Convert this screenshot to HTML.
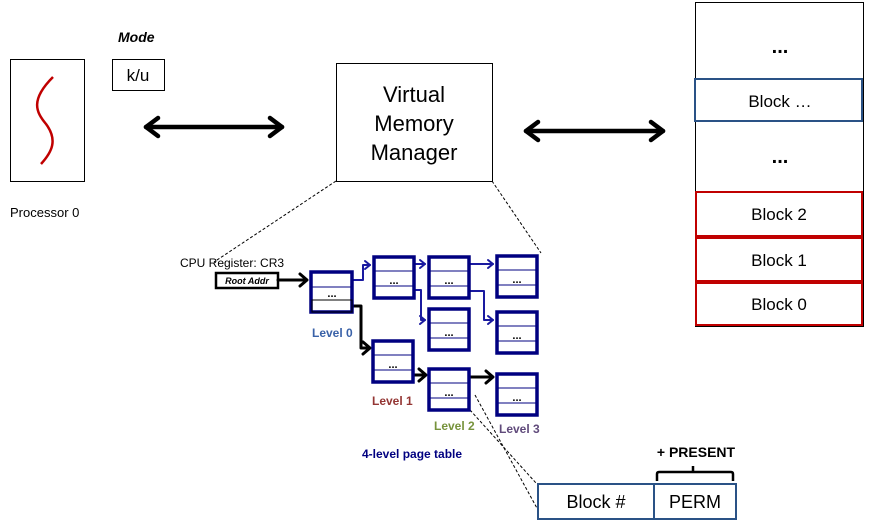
<!DOCTYPE html>
<html><head><meta charset="utf-8"><style>
html,body{margin:0;padding:0;background:#fff;}
svg{display:block;font-family:"Liberation Sans",sans-serif;}
</style></head><body>
<svg width="869" height="531" viewBox="0 0 869 531" xmlns="http://www.w3.org/2000/svg">
<defs>
<marker id="ab" markerWidth="6" markerHeight="6" refX="5" refY="3" orient="auto" markerUnits="userSpaceOnUse" viewBox="0 0 6 6"><path d="M0,0 L5,3 L0,6" fill="none" stroke="#000" stroke-width="1.6"/></marker>
</defs>
<!-- Processor -->
<rect x="10.5" y="59.5" width="74" height="122" fill="#fff" stroke="#000"/>
<path d="M53,77 C30,100 36,112 46,124 C58,140 52,152 41,164" fill="none" stroke="#c00000" stroke-width="2.5"/>
<text x="10" y="217" font-size="13">Processor 0</text>
<text x="118" y="42" font-size="14" font-weight="bold" font-style="italic">Mode</text>
<rect x="112.5" y="59.5" width="52" height="31" fill="#fff" stroke="#000"/>
<text x="138" y="81" font-size="17" text-anchor="middle">k/u</text>
<!-- arrows -->
<g stroke="#000" stroke-width="4.5" fill="none" stroke-linecap="round" stroke-linejoin="round">
<line x1="146" y1="127" x2="282" y2="127"/>
<polyline points="158,118 146,127 158,136"/>
<polyline points="270,118 282,127 270,136"/>
<line x1="526" y1="131" x2="663" y2="131"/>
<polyline points="538,122 526,131 538,140"/>
<polyline points="651,122 663,131 651,140"/>
</g>
<!-- VMM -->
<rect x="336.5" y="63.5" width="156" height="118" fill="#fff" stroke="#000"/>
<text x="414" y="102" font-size="22" text-anchor="middle">Virtual</text>
<text x="414" y="131" font-size="22" text-anchor="middle">Memory</text>
<text x="414" y="160" font-size="22" text-anchor="middle">Manager</text>
<g stroke="#000" stroke-width="1" stroke-dasharray="3,2" fill="none">
<line x1="336" y1="181" x2="214" y2="262"/>
<line x1="492" y1="181" x2="541" y2="253"/>
<line x1="470" y1="410" x2="536" y2="483"/>
<line x1="475" y1="395" x2="538" y2="510"/>
</g>
<!-- memory column -->
<rect x="695.5" y="2.5" width="168" height="324" fill="#fff" stroke="#000"/>
<text x="780" y="53" font-size="20" font-weight="bold" text-anchor="middle">...</text>
<rect x="695" y="79" width="167" height="42" fill="#fff" stroke="#2a5286" stroke-width="2"/>
<text x="780" y="107" font-size="17" text-anchor="middle">Block …</text>
<text x="780" y="163" font-size="20" font-weight="bold" text-anchor="middle">...</text>
<rect x="696" y="192" width="166" height="44" fill="#fff" stroke="#c00000" stroke-width="2"/>
<text x="779" y="220" font-size="17" text-anchor="middle">Block 2</text>
<rect x="696" y="238" width="166" height="43" fill="#fff" stroke="#c00000" stroke-width="2"/>
<text x="779" y="266" font-size="17" text-anchor="middle">Block 1</text>
<rect x="696" y="283" width="166" height="42" fill="#fff" stroke="#c00000" stroke-width="2"/>
<text x="779" y="310" font-size="17" text-anchor="middle">Block 0</text>
<!-- CR3 -->
<text x="180" y="267" font-size="12">CPU Register: CR3</text>
<rect x="216" y="273" width="62" height="15" fill="#fff" stroke="#000" stroke-width="2.5"/>
<text x="247" y="284" font-size="9" font-weight="bold" font-style="italic" text-anchor="middle">Root Addr</text>
<!-- connectors -->
<g fill="none" stroke-linejoin="round" stroke-linecap="round">
<g stroke="#000" stroke-width="3">
<polyline points="278,280 306,280"/><polyline points="300,274 307,280 300,286"/>
<polyline points="353,306 361,306 361,348 369,348"/><polyline points="363,342 370,348 363,354"/>
<polyline points="414,375 425,375"/><polyline points="419,369 426,375 419,381"/>
<polyline points="470,377 492,377"/><polyline points="486,371 493,377 486,383"/>
</g>
<g stroke="#1a1aa0" stroke-width="2">
<polyline points="353,280 363,280 363,265 370,265"/><polyline points="365,261 370,265 365,269"/>
<polyline points="415,264 425,264"/><polyline points="420,260 425,264 420,268"/>
<polyline points="415,290 421,290 421,320 425,320"/><polyline points="420,316 425,320 420,324"/>
<polyline points="470,264 493,264"/><polyline points="488,260 493,264 488,268"/>
<polyline points="470,291 484,291 484,320 493,320"/><polyline points="488,316 493,320 488,324"/>
</g>
</g>
<!-- page table boxes -->
<g fill="#fff" stroke="#000080" stroke-width="3.5">
<rect x="311" y="272" width="41" height="40"/>
<rect x="374" y="257" width="40" height="41"/>
<rect x="429" y="257" width="40" height="41"/>
<rect x="497" y="256" width="40" height="41"/>
<rect x="429" y="309" width="40" height="41"/>
<rect x="497" y="312" width="40" height="41"/>
<rect x="373" y="341" width="40" height="41"/>
<rect x="429" y="369" width="40" height="41"/>
<rect x="497" y="374" width="40" height="41"/>
</g>
<g stroke="#000080" stroke-width="1">
<line x1="311" y1="287" x2="352" y2="287"/>
<rect x="312" y="300" width="40" height="12" fill="none" stroke="#000"/>
<line x1="374" y1="271" x2="414" y2="271"/><line x1="374" y1="286" x2="414" y2="286"/>
<line x1="429" y1="271" x2="469" y2="271"/><line x1="429" y1="286" x2="469" y2="286"/>
<line x1="497" y1="270" x2="537" y2="270"/><line x1="497" y1="285" x2="537" y2="285"/>
<line x1="429" y1="323" x2="469" y2="323"/><line x1="429" y1="338" x2="469" y2="338"/>
<line x1="497" y1="326" x2="537" y2="326"/><line x1="497" y1="341" x2="537" y2="341"/>
<line x1="373" y1="355" x2="413" y2="355"/><line x1="373" y1="370" x2="413" y2="370"/>
<line x1="429" y1="383" x2="469" y2="383"/><line x1="429" y1="398" x2="469" y2="398"/>
<line x1="497" y1="388" x2="537" y2="388"/><line x1="497" y1="403" x2="537" y2="403"/>
</g>
<g font-size="11" font-weight="bold" text-anchor="middle">
<text x="332" y="297">...</text><text x="394" y="284">...</text><text x="449" y="284">...</text><text x="517" y="283">...</text>
<text x="449" y="336">...</text><text x="517" y="339">...</text><text x="393" y="368">...</text><text x="449" y="396">...</text><text x="517" y="401">...</text>
</g>
<g font-size="12" font-weight="bold">
<text x="312" y="337" fill="#3a62a8">Level 0</text>
<text x="372" y="405" fill="#943634">Level 1</text>
<text x="434" y="430" fill="#77933c">Level 2</text>
<text x="499" y="433" fill="#604a7b">Level 3</text>
<text x="362" y="458" fill="#000080">4-level page table</text>
</g>
<!-- entry -->
<rect x="538" y="484" width="198" height="35" fill="#fff" stroke="#2a5286" stroke-width="2"/>
<line x1="654" y1="484" x2="654" y2="519" stroke="#2a5286" stroke-width="2"/>
<text x="596" y="508" font-size="18" text-anchor="middle">Block #</text>
<text x="695" y="508" font-size="18" text-anchor="middle">PERM</text>
<text x="696" y="457" font-size="14" font-weight="bold" text-anchor="middle">+ PRESENT</text>
<path d="M657,481 V474 Q657,472 659,472 H731 Q733,472 733,474 V481 M693,472 V466" fill="none" stroke="#000" stroke-width="2.5"/>
</svg>
</body></html>
